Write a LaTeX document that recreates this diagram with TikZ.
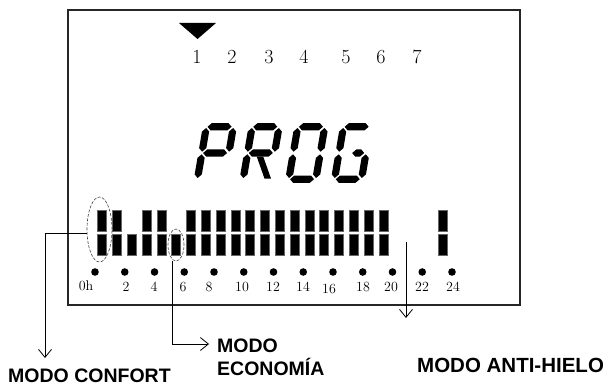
\documentclass[tikz,border=0pt]{standalone}
\usepackage{fontspec}
\newfontfamily\modefont{Liberation Sans}
\usetikzlibrary{arrows.meta,shapes.geometric}

% one slanted LCD segment, horizontal: {x1}{x2}{y}
\newcommand\lcdh[3]{\fill (#1,#3) -- ({#1+3.6},{#3+3.6}) -- ({#2-3.6},{#3+3.6}) -- (#2,#3) -- ({#2-3.6},{#3-3.6}) -- ({#1+3.6},{#3-3.6}) -- cycle;}
% vertical: {x}{y1}{y2}
\newcommand\lcdv[3]{\fill (#1,#2) -- ({#1+3.6},{#2+3.6}) -- ({#1+3.6},{#3-3.6}) -- (#1,#3) -- ({#1-3.6},{#3-3.6}) -- ({#1-3.6},{#2+3.6}) -- cycle;}
% segments a..g of a 34 x 60 cell
\newcommand\sgA{\lcdh{5}{29}{56.2}}
\newcommand\sgB{\lcdv{30.8}{31.3}{55}}
\newcommand\sgC{\lcdv{30.8}{5}{28.7}}
\newcommand\sgD{\lcdh{5}{29}{3.8}}
\newcommand\sgE{\lcdv{3.8}{5}{28.7}}
\newcommand\sgF{\lcdv{3.8}{31.3}{55}}
\newcommand\sgG{\lcdh{5}{29}{30}}

\tikzset{
  frame/.style={draw=black!85, line width=1.2pt},
  bar/.style={fill=black, draw=black!60, line width=0.4pt},
  hourlbl/.style={font=\fontsize{14}{14}\selectfont, inner sep=0pt, anchor=base},
  daylbl/.style={font=\fontsize{20}{20}\selectfont, inner sep=0pt, anchor=base},
  zone/.style={ellipse, draw=black!75, dash pattern=on 3pt off 1.5pt, line width=0.6pt, inner sep=0pt},
  lead/.style={draw=black, line width=0.8pt, -{Straight Barb[length=8pt,width=13pt]}},
  modelbl/.style={font=\modefont\bfseries\fontsize{19.5}{23}\selectfont, inner sep=0pt},
  lcdcell/.style={x=1pt, y=1pt, xslant=0.17}
}

\begin{document}
\begin{tikzpicture}[x=1pt, y=-1pt]
\useasboundingbox (0,0) rectangle (610,385);

% display frame
\draw[frame] (68,10) rectangle (520,305);

% day marker and day numbers
\fill (179,23) -- (216,23) -- (197.5,39) -- cycle;
\foreach \d/\x in {1/197, 2/232, 3/269, 4/304, 5/346, 6/381, 7/417}
  \node[daylbl] (day\d) at (\x,64) {\d};

% PROG in seven-segment digits
\begin{scope}[shift={(193,183)}, lcdcell]
  \sgA \sgB \sgF \sgG \sgE
\end{scope}
\begin{scope}[shift={(238.7,183)}, lcdcell]
  \sgA \sgB \sgF \sgG \sgE
  \fill (13.5,26.5) -- (20,26.5) -- (31.5,4.5) -- (25,4.5) -- cycle;
\end{scope}
\begin{scope}[shift={(284.4,183)}, lcdcell]
  \sgA \sgB \sgC \sgD \sgE \sgF
\end{scope}
\begin{scope}[shift={(330.1,183)}, lcdcell]
  \sgA \sgF \sgE \sgD \sgC
  \lcdh{17}{29}{30}
\end{scope}

% hourly program bars
\foreach \i in {0,1,3,4,6,7,8,9,10,11,12,13,14,15,16,17,18,19,23}
  \filldraw[bar] ({102+14.8*\i-4.5},210) rectangle ++(9,21.5);
\foreach \i in {0,...,19,23}
  \filldraw[bar] ({102+14.8*\i-4.5},234) rectangle ++(9,21.5);

% hour dots and labels
\foreach \k in {0,...,12}
  \fill ({95+29.75*\k},272) circle (3.8pt);
\node[hourlbl] (h0) at (86,290) {0h};
\foreach \h/\x in {2/126, 4/154, 6/183, 8/209, 10/242, 12/273, 14/303, 18/363, 20/391, 22/422, 24/453}
  \node[hourlbl] (h\h) at (\x,291) {\h};
\node[hourlbl] (h16) at (329,293) {16};

% marked zones
\node[zone, minimum width=25pt, minimum height=65pt] (confort) at (99.5,229.5) {};
\node[zone, minimum width=16pt, minimum height=32pt] (economia) at (176,245) {};

% mode labels
\node[modelbl, anchor=base west] (confortlbl) at (8,382) {MODO CONFORT};
\node[modelbl, anchor=north west, align=left] (economialbl) at (217,339) {MODO\\ECONOMÍA};
\node[modelbl, font=\modefont\bfseries\fontsize{20.5}{23}\selectfont, anchor=base west] (antilbl) at (417,372) {MODO ANTI-HIELO};

% leaders
\coordinate (confortend) at (45,358);
\coordinate (economiaend) at (209,344);
\coordinate (antistart) at (406,242);
\coordinate (antiend) at (406,318);
\draw[lead] ([yshift=-3.5pt]confort.west) -| (confortend);
\draw[lead] ([xshift=-4pt]economia.south) |- (economiaend);
\draw[lead] (antistart) -- (antiend);
\end{tikzpicture}
\end{document}
